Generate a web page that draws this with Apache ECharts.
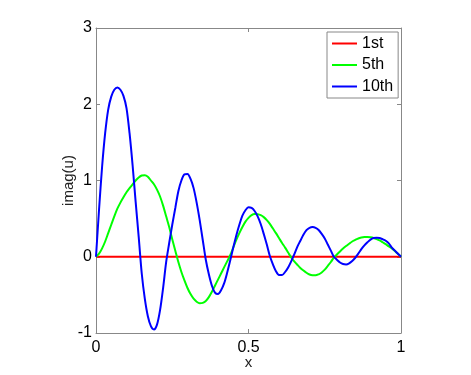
<!DOCTYPE html>
<html>
<head>
<meta charset="utf-8">
<script src="https://cdn.jsdelivr.net/npm/echarts@6/dist/echarts.min.js"></script>
<style>
  html, body { margin: 0; padding: 0; background: #fff; }
  #chart { width: 471px; height: 375px; }
</style>
</head>
<body>
<div id="chart"></div>
<script>
// 数据：采样点（x 步长 0.01）
const seriesNames = ['1st', '5th', '10th']

const xValues = [
  0.00, 0.01, 0.02, 0.03, 0.04, 0.05, 0.06, 0.07, 0.08, 0.09,
  0.10, 0.11, 0.12, 0.13, 0.14, 0.15, 0.16, 0.17, 0.18, 0.19,
  0.20, 0.21, 0.22, 0.23, 0.24, 0.25, 0.26, 0.27, 0.28, 0.29,
  0.30, 0.31, 0.32, 0.33, 0.34, 0.35, 0.36, 0.37, 0.38, 0.39,
  0.40, 0.41, 0.42, 0.43, 0.44, 0.45, 0.46, 0.47, 0.48, 0.49,
  0.50, 0.51, 0.52, 0.53, 0.54, 0.55, 0.56, 0.57, 0.58, 0.59,
  0.60, 0.61, 0.62, 0.63, 0.64, 0.65, 0.66, 0.67, 0.68, 0.69,
  0.70, 0.71, 0.72, 0.73, 0.74, 0.75, 0.76, 0.77, 0.78, 0.79,
  0.80, 0.81, 0.82, 0.83, 0.84, 0.85, 0.86, 0.87, 0.88, 0.89,
  0.90, 0.91, 0.92, 0.93, 0.94, 0.95, 0.96, 0.97, 0.98, 0.99,
  1.00
]

// 1st：整条为 0
const xRed = [0, 1]
const yRed = [0, 0]

// 5th
const yGreen = [
  0, 0.04, 0.11, 0.20, 0.31, 0.42, 0.53, 0.63, 0.71, 0.78,
  0.845, 0.90, 0.95, 1.00, 1.04, 1.065, 1.07, 1.05, 1.00, 0.95,
  0.88, 0.79, 0.67, 0.53, 0.39, 0.23, 0.08, -0.07, -0.20, -0.31,
  -0.41, -0.49, -0.55, -0.59, -0.61, -0.605, -0.58, -0.53, -0.46, -0.38,
  -0.30, -0.22, -0.14, -0.06, 0.02, 0.12, 0.22, 0.31, 0.39, 0.46,
  0.51, 0.545, 0.56, 0.557, 0.545, 0.52, 0.48, 0.43, 0.37, 0.31,
  0.245, 0.18, 0.12, 0.055, -0.01, -0.06, -0.105, -0.147, -0.18, -0.21,
  -0.233, -0.243, -0.244, -0.23, -0.206, -0.169, -0.12, -0.069, -0.01, 0.03,
  0.07, 0.107, 0.14, 0.17, 0.20, 0.22, 0.24, 0.252, 0.259, 0.26,
  0.255, 0.246, 0.232, 0.214, 0.19, 0.165, 0.136, 0.11, 0.075, 0.038,
  0
]

// 10th
const yBlue = [
  0, 0.62, 1.18, 1.62, 1.93, 2.10, 2.19, 2.22, 2.19, 2.11,
  1.95, 1.62, 1.20, 0.72, 0.26, -0.22, -0.55, -0.78, -0.91, -0.953,
  -0.89, -0.70, -0.41, -0.07, 0.18, 0.42, 0.64, 0.86, 1.00, 1.08,
  1.085, 1.02, 0.90, 0.71, 0.48, 0.22, -0.04, -0.23, -0.38, -0.47,
  -0.49, -0.44, -0.35, -0.21, -0.05, 0.12, 0.28, 0.42, 0.54, 0.61,
  0.65, 0.64, 0.60, 0.53, 0.43, 0.30, 0.16, 0.01, -0.10, -0.19,
  -0.24, -0.24, -0.20, -0.14, -0.06, 0.03, 0.13, 0.21, 0.29, 0.35,
  0.38, 0.39, 0.38, 0.35, 0.30, 0.24, 0.16, 0.08, 0.00, -0.04,
  -0.075, -0.095, -0.10, -0.086, -0.055, -0.013, 0.04, 0.10, 0.15, 0.19,
  0.225, 0.245, 0.25, 0.245, 0.23, 0.21, 0.175, 0.12, 0.08, 0.04,
  0
]

const colors = ['#ff0000', '#00ff00', '#0000ff']
const FONT = '"Liberation Sans", Arial, Helvetica, sans-serif'
const AXIS_COLOR = '#888'

const zip = (xs, ys) => xs.map((x, i) => [x, ys[i]])

// 上、右两条边框（只画刻度，不要标签）
const boxAxis = (position) => ({
  type: 'value',
  position,
  axisLine: { show: true, onZero: false, lineStyle: { color: AXIS_COLOR, width: 1 } },
  axisTick: { show: true, inside: true, length: 4, lineStyle: { color: AXIS_COLOR } },
  axisLabel: { show: false },
  splitLine: { show: false }
})

const chart = echarts.init(document.getElementById('chart'))

const option = {
  animation: false,
  backgroundColor: '#fff',
  grid: { left: 96, right: 70, top: 28, bottom: 42 },
  legend: {
    data: seriesNames,
    orient: 'vertical',
    left: 327,
    top: 32,
    icon: 'rect',
    itemWidth: 25,
    itemHeight: 2,
    itemGap: 4.5,
    padding: [3, 5, 3, 5],
    borderColor: AXIS_COLOR,
    borderWidth: 1,
    backgroundColor: '#fff',
    textStyle: { fontFamily: FONT, fontSize: 16, color: '#000', lineHeight: 17 }
  },
  xAxis: [
    {
      type: 'value',
      min: 0,
      max: 1,
      interval: 0.5,
      name: 'x',
      nameLocation: 'middle',
      nameGap: 22,
      nameMoveOverlap: false,
      nameTextStyle: { fontFamily: FONT, fontSize: 15, color: '#222' },
      axisLine: { show: true, onZero: false, lineStyle: { color: AXIS_COLOR, width: 1 } },
      axisTick: { show: true, inside: true, length: 4, lineStyle: { color: AXIS_COLOR } },
      axisLabel: { fontFamily: FONT, fontSize: 16, color: '#000', margin: 7 },
      splitLine: { show: false }
    },
    Object.assign(boxAxis('top'), { min: 0, max: 1, interval: 0.5 })
  ],
  yAxis: [
    {
      type: 'value',
      min: -1,
      max: 3,
      interval: 1,
      name: 'imag(u)',
      nameLocation: 'middle',
      nameGap: 20,
      nameMoveOverlap: false,
      nameTextStyle: { fontFamily: FONT, fontSize: 15, color: '#222' },
      axisLine: { show: true, onZero: false, lineStyle: { color: AXIS_COLOR, width: 1 } },
      axisTick: { show: true, inside: true, length: 4, lineStyle: { color: AXIS_COLOR } },
      axisLabel: { fontFamily: FONT, fontSize: 16, color: '#000', margin: 4 },
      splitLine: { show: false }
    },
    Object.assign(boxAxis('right'), { min: -1, max: 3, interval: 1 })
  ],
  series: [
    { name: seriesNames[0], data: zip(xRed, yRed), color: colors[0] },
    { name: seriesNames[1], data: zip(xValues, yGreen), color: colors[1] },
    { name: seriesNames[2], data: zip(xValues, yBlue), color: colors[2] }
  ].map(s => ({
    name: s.name,
    type: 'line',
    data: s.data,
    smooth: 0.3,
    showSymbol: false,
    itemStyle: { color: s.color },
    lineStyle: { color: s.color, width: 2 }
  }))
}

chart.setOption(option)
</script>
</body>
</html>
